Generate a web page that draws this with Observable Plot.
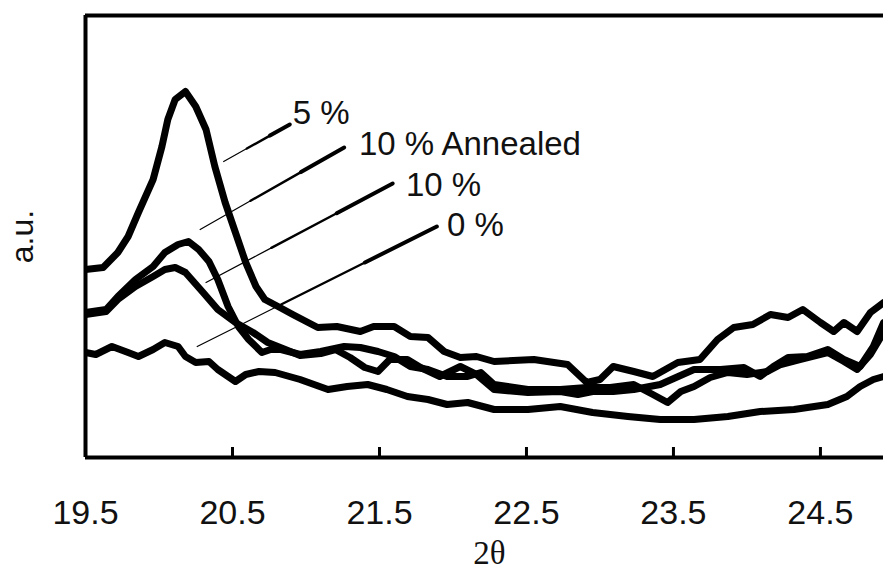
<!DOCTYPE html>
<html>
<head>
<meta charset="utf-8">
<script src="https://cdn.jsdelivr.net/npm/d3@7"></script>
<script src="https://cdn.jsdelivr.net/npm/@observablehq/plot@0.6"></script>
<style>
  html, body { margin: 0; padding: 0; background: #fff; }
  #chart svg { display: block; }
</style>
</head>
<body>
<div id="chart"></div>
<script>
// 2θ (degrees) and intensity (a.u.)
const twoTheta5 = [19.50,19.62,19.72,19.79,19.86,19.96,20.02,20.06,20.11,20.18,20.25,20.32,20.38,20.45,20.52,20.59,20.66,20.72,20.81,20.91,21.08,21.21,21.37,21.46,21.60,21.71,21.83,21.94,22.05,22.16,22.28,22.55,22.78,22.91,23.00,23.09,23.23,23.36,23.53,23.68,23.80,23.91,24.04,24.16,24.28,24.38,24.50,24.59,24.66,24.75,24.84,24.93];
const intensity5 = [188,190,205,221,245,278,311,338,358,366,351,328,291,255,225,195,171,158,151,143,130,131,126,131,131,121,120,106,100,101,96,98,93,75,78,91,86,81,95,98,118,130,133,143,140,148,135,126,135,126,145,155];

const twoThetaA = [19.50,19.64,19.72,19.84,19.96,20.04,20.13,20.20,20.27,20.34,20.40,20.47,20.54,20.61,20.70,20.76,20.83,20.96,21.10,21.26,21.37,21.49,21.60,21.71,21.83,21.96,22.10,22.19,22.28,22.51,22.73,22.91,23.07,23.23,23.36,23.46,23.55,23.64,23.75,23.87,24.00,24.14,24.23,24.36,24.55,24.66,24.75,24.84,24.93];
const intensityA = [145,148,161,178,191,205,213,216,208,196,178,151,131,118,105,108,108,103,106,111,110,106,101,91,88,81,81,85,73,68,68,70,70,73,63,55,66,71,80,85,83,86,93,98,105,96,88,103,125];

const twoTheta10 = [19.50,19.64,19.72,19.84,19.96,20.04,20.11,20.18,20.30,20.40,20.52,20.64,20.74,20.86,20.96,21.10,21.20,21.30,21.40,21.49,21.57,21.69,21.78,21.91,22.05,22.16,22.28,22.51,22.73,22.85,22.95,23.09,23.23,23.41,23.64,23.82,23.98,24.09,24.18,24.28,24.41,24.55,24.66,24.77,24.86,24.93];
const intensity10 = [143,146,158,171,181,188,190,185,165,148,135,125,115,108,102,104,108,100,90,86,98,98,90,81,91,83,68,65,66,63,66,66,68,73,88,88,90,81,91,100,101,108,98,91,111,135];

const twoTheta0 = [19.50,19.57,19.68,19.79,19.86,19.96,20.04,20.13,20.18,20.25,20.34,20.40,20.47,20.52,20.59,20.68,20.79,20.96,21.15,21.28,21.42,21.55,21.69,21.83,21.96,22.10,22.28,22.51,22.73,22.95,23.19,23.41,23.64,23.87,24.09,24.32,24.55,24.68,24.77,24.86,24.93];
const intensity0 = [105,103,111,105,101,108,115,111,101,95,96,88,81,76,83,86,85,78,68,71,73,68,61,58,53,55,48,48,51,45,41,38,38,41,46,48,53,61,71,78,81];

const xTicks = [19.5, 20.5, 21.5, 22.5, 23.5, 24.5];
const innerTicks = [20.5, 21.5, 22.5, 23.5, 24.5];

// labels and leader lines (from point on curve to the label)
const labelNames = ["5 %", "10 % Annealed", "10 %", "0 %"];
const labelX = [20.91, 21.36, 21.68, 21.96];
const labelY = [344, 313, 272, 232];
const leadFromX = [20.44, 20.28, 20.32, 20.26];
const leadFromY = [296, 228, 175, 111];
const leadToX = [20.89, 21.26, 21.59, 21.89];
const leadToY = [333, 310, 274, 231];

const series = [
  {name: "5 %", xs: twoTheta5, ys: intensity5},
  {name: "10 % Annealed", xs: twoThetaA, ys: intensityA},
  {name: "10 %", xs: twoTheta10, ys: intensity10},
  {name: "0 %", xs: twoTheta0, ys: intensity0}
];
const rows = series.flatMap(s => s.xs.map((x, i) => ({series: s.name, x, y: s.ys[i]})));

// tapered leader: three pieces of growing width
const widths = [1.2, 2.4, 4];
const pieces = [];
labelNames.forEach((n, i) => {
  const f = [0, 0.35, 0.7, 1];
  for (let k = 0; k < 3; k++) {
    pieces.push({
      x1: leadFromX[i] + f[k] * (leadToX[i] - leadFromX[i]),
      y1: leadFromY[i] + f[k] * (leadToY[i] - leadFromY[i]),
      x2: leadFromX[i] + f[k + 1] * (leadToX[i] - leadFromX[i]),
      y2: leadFromY[i] + f[k + 1] * (leadToY[i] - leadFromY[i]),
      k
    });
  }
});
const labels = labelNames.map((n, i) => ({n, x: labelX[i], y: labelY[i]}));

const sans = "Liberation Sans, Arial, Helvetica, sans-serif";
const serif = "Liberation Serif, Times New Roman, serif";

const chart = Plot.plot({
  width: 883,
  height: 571,
  marginLeft: 85,
  marginRight: 0,
  marginTop: 15,
  marginBottom: 114,
  x: {domain: [19.5, 24.929], axis: null},
  y: {domain: [0, 442], axis: null},
  style: {background: "#fff", color: "#000"},
  marks: [
    // frame (right side falls outside the picture)
    Plot.ruleY([0, 442], {stroke: "#000", strokeWidth: 4}),
    Plot.ruleX([19.5], {stroke: "#000", strokeWidth: 4}),
    // inward ticks
    Plot.ruleX(innerTicks, {x: d => d, y1: 0, y2: 10, stroke: "#000", strokeWidth: 3}),
    // curves
    Plot.line(rows, {x: "x", y: "y", z: "series", stroke: "#000", strokeWidth: 7, strokeLinejoin: "round", strokeLinecap: "round", clip: true}),
    // leaders
    ...widths.map((wd, k) => Plot.link(pieces.filter(p => p.k === k), {x1: "x1", y1: "y1", x2: "x2", y2: "y2", stroke: "#000", strokeWidth: wd, strokeLinecap: "round"})),
    // series labels
    Plot.text(labels, {x: "x", y: "y", text: "n", textAnchor: "start", lineAnchor: "middle", fontSize: 33, fontFamily: sans, fill: "#111"}),
    // tick labels
    Plot.text(xTicks, {x: d => d, frameAnchor: "bottom", lineAnchor: "bottom", dy: 66, text: d => d.toFixed(1), fontSize: 34, fontFamily: sans, fill: "#111"}),
    // axis titles
    Plot.text(["2θ"], {frameAnchor: "bottom", lineAnchor: "bottom", textAnchor: "middle", dx: 5, dy: 106, fontSize: 33, fontFamily: serif, fill: "#111"}),
    Plot.text(["a.u."], {frameAnchor: "left", textAnchor: "middle", lineAnchor: "middle", dx: -63, rotate: -90, fontSize: 32, fontFamily: sans, fill: "#111"})
  ]
});
document.getElementById("chart").appendChild(chart);
</script>
</body>
</html>
